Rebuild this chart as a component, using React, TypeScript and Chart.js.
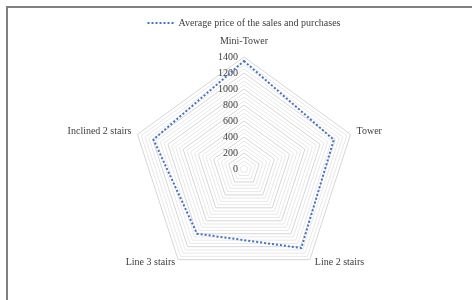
import React, { useEffect, useRef } from "react";
import { Chart, registerables } from "chart.js";

Chart.register(...registerables);

// ---- data ----
const categories = ["Mini-Tower", "Tower", "Line 2 stairs", "Line 3 stairs", "Inclined 2 stairs"];
const seriesLabel = "Average price of the sales and purchases";
const avgPrice = [1350, 1180, 1220, 1000, 1190];
const tickLabels = [0, 200, 400, 600, 800, 1000, 1200, 1400];
const axisMin = 0;
const axisMax = 1400;
const minorStep = 50;
const majorStep = 200;

const FONT = "'Liberation Serif', 'DejaVu Serif', serif";
const TEXT = "#404040";
const LINE_COLOR = "#4472C4";
const LINE_DASH = [2, 2];

// label placement relative to each outer vertex (layout only)
const pointLabelPlacement = [
  { dx: 0, dy: -16, align: "center" },
  { dx: 6, dy: -3, align: "left" },
  { dx: 5, dy: 3, align: "left" },
  { dx: -3, dy: 3, align: "right" },
  { dx: -6, dy: -3, align: "right" },
];

const radarLabels = {
  id: "radarLabels",
  beforeDatasetsDraw(chart: any) {
    const scale = chart.scales.r;
    const ctx = chart.ctx;
    ctx.save();
    ctx.font = `10px ${FONT}`;
    ctx.fillStyle = TEXT;
    ctx.textAlign = "right";
    ctx.textBaseline = "middle";
    tickLabels.forEach((v) => {
      const d = scale.getDistanceFromCenterForValue(v);
      ctx.fillText(String(v), scale.xCenter - 6, scale.yCenter - d);
    });
    ctx.restore();
  },
  afterDraw(chart: any) {
    const scale = chart.scales.r;
    const ctx = chart.ctx;
    ctx.save();
    ctx.font = `10px ${FONT}`;
    ctx.fillStyle = TEXT;
    ctx.textBaseline = "middle";
    categories.forEach((c, i) => {
      const p = scale.getPointPosition(i, scale.drawingArea);
      const o = pointLabelPlacement[i];
      ctx.textAlign = o.align;
      ctx.fillText(c, p.x + o.dx, p.y + o.dy);
    });
    // outer frame (top and left edges of the chart border)
    ctx.fillStyle = "#808080";
    ctx.fillRect(6, 6, chart.width - 6, 2);
    ctx.fillRect(6, 6, 2, chart.height - 6);
    ctx.restore();
  },
};

export default function App() {
  const ref = useRef<HTMLCanvasElement | null>(null);

  useEffect(() => {
    if (!ref.current) return;
    const chart = new Chart(ref.current, {
      type: "radar",
      data: {
        labels: categories,
        datasets: [
          {
            label: seriesLabel,
            data: avgPrice,
            fill: false,
            borderColor: LINE_COLOR,
            backgroundColor: "transparent",
            borderWidth: 2,
            borderDash: LINE_DASH,
            pointRadius: 0,
            tension: 0,
          },
        ],
      },
      options: {
        responsive: false,
        animation: false,
        layout: { padding: { left: 132, right: 116, top: 8, bottom: -2 } },
        plugins: {
          legend: {
            position: "top",
            labels: {
              font: { family: FONT, size: 10 },
              color: TEXT,
              usePointStyle: true,
              pointStyle: "line",
              pointStyleWidth: 26,
              padding: 10,
              generateLabels: (ch: any) => {
                const items = Chart.defaults.plugins.legend.labels.generateLabels(ch);
                items.forEach((it: any) => {
                  it.lineDash = LINE_DASH;
                  it.strokeStyle = LINE_COLOR;
                  it.lineWidth = 2;
                  it.pointStyle = "line";
                });
                return items;
              },
            },
          },
          tooltip: { enabled: false },
        },
        scales: {
          r: {
            min: axisMin,
            max: axisMax,
            ticks: { display: false, stepSize: minorStep },
            grid: {
              lineWidth: 1,
              color: (c: any) =>
                c.tick && c.tick.value % majorStep === 0 ? "#d6d6d6" : "#e8e8e8",
            },
            angleLines: { display: false },
            pointLabels: { display: false },
          },
        },
      },
      plugins: [radarLabels],
    } as any);
    return () => chart.destroy();
  }, []);

  return (
    <div
      style={{
        position: "fixed",
        left: 0,
        top: 0,
        width: 472,
        height: 300,
        overflow: "hidden",
        background: "#fff",
      }}
    >
      <canvas
        ref={ref}
        width={472}
        height={300}
        style={{ position: "absolute", left: 0, top: 0, width: 472, height: 300 }}
      />
    </div>
  );
}
